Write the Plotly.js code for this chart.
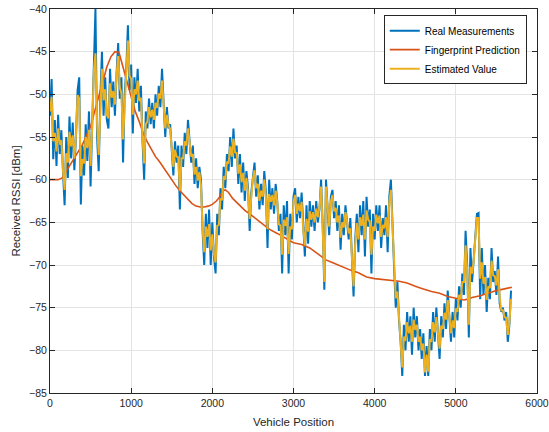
<!DOCTYPE html>
<html>
<head>
<meta charset="utf-8">
<script src="https://cdn.plot.ly/plotly-3.0.1.min.js"></script>
<style>html,body{margin:0;padding:0;background:#fff;}#chart{width:549px;height:432px;}</style>
</head>
<body>
<div id="chart"></div>
<script>
// Position step of the sampled series (vehicle position units)
const positionStep = 20;

// Real Measurements (RSSI, dBm), one value per positionStep
const realMeasurements = [
  -52.5,-48.2,-57.6,-53.0,-58.4,-52.4,-57.0,-54.2,-59.1,-63.0,
  -55.0,-59.8,-52.6,-57.5,-53.3,-58.9,-55.0,-49.5,-48.0,-62.9,
  -56.0,-59.5,-53.5,-57.8,-52.0,-60.8,-53.5,-47.5,-40.0,-55.0,
  -59.0,-50.5,-45.0,-52.5,-48.0,-53.0,-54.0,-47.0,-51.5,-48.5,
  -52.5,-47.5,-44.0,-50.5,-48.0,-58.0,-50.0,-47.0,-41.9,-49.5,
  -46.5,-54.6,-48.0,-51.0,-47.0,-52.0,-49.0,-55.5,-60.0,-52.0,
  -54.0,-50.5,-53.5,-51.0,-54.0,-50.0,-52.5,-49.0,-51.5,-47.0,
  -52.0,-55.0,-51.5,-54.0,-53.5,-57.0,-59.5,-55.5,-58.0,-56.0,
  -63.5,-56.0,-58.5,-54.5,-57.0,-53.0,-55.5,-58.0,-56.0,-60.5,
  -57.5,-61.0,-58.5,-60.0,-66.0,-70.0,-64.0,-68.0,-63.5,-70.0,
  -65.0,-69.0,-71.0,-64.0,-66.5,-61.0,-63.5,-58.5,-61.0,-57.0,
  -59.0,-55.0,-58.5,-54.0,-57.5,-56.0,-60.5,-57.0,-61.5,-58.0,
  -62.5,-59.0,-61.0,-66.0,-61.5,-60.0,-58.0,-62.0,-59.5,-63.5,
  -60.5,-63.0,-59.0,-61.5,-68.0,-60.0,-63.5,-61.0,-64.0,-60.5,
  -62.5,-66.0,-64.0,-71.0,-63.0,-66.5,-62.5,-71.0,-64.0,-67.0,
  -62.0,-61.0,-65.0,-62.0,-64.5,-61.5,-66.0,-69.0,-63.0,-67.5,
  -62.5,-65.5,-63.0,-66.0,-62.5,-65.0,-63.5,-60.0,-65.5,-72.9,
  -60.0,-64.0,-66.5,-62.0,-61.2,-64.5,-62.5,-66.0,-63.0,-68.2,
  -64.0,-66.5,-63.0,-65.0,-67.0,-64.5,-70.0,-73.7,-67.0,-64.0,
  -68.5,-63.0,-66.5,-62.5,-69.0,-62.0,-65.5,-63.5,-71.0,-64.0,
  -67.0,-63.0,-66.0,-63.0,-68.0,-64.5,-66.5,-63.0,-68.5,-62.0,
  -60.0,-66.0,-70.5,-75.0,-72.0,-76.5,-79.0,-83.0,-77.0,-80.0,
  -75.5,-79.0,-76.0,-80.5,-75.0,-78.5,-76.0,-80.0,-77.5,-81.0,
  -78.0,-83.0,-79.5,-83.0,-77.5,-80.0,-75.5,-79.0,-75.0,-78.0,
  -81.0,-76.0,-78.5,-74.5,-77.5,-73.0,-76.0,-79.0,-75.5,-78.5,
  -74.0,-76.5,-72.5,-75.0,-71.0,-73.5,-66.0,-70.0,-78.5,-68.0,
  -72.0,-69.5,-67.0,-64.0,-63.9,-74.0,-68.0,-73.5,-70.0,-75.5,
  -71.5,-74.0,-68.0,-72.0,-70.7,-73.5,-69.0,-74.5,-75.5,-75.0,
  -76.5,-75.5,-79.0,-77.0,-73.0
];

// Estimated Value (RSSI, dBm), same positions
const estimatedValue = [
  -52.0,-50.3,-55.5,-54.5,-56.7,-54.0,-55.9,-55.4,-58.9,-61.2,
  -56.9,-58.0,-54.4,-56.1,-54.8,-57.5,-54.8,-50.1,-50.5,-59.6,
  -57.6,-58.1,-55.0,-56.3,-54.2,-58.4,-53.7,-47.3,-45.2,-53.4,
  -57.1,-51.0,-47.0,-50.7,-49.4,-52.4,-52.8,-48.7,-50.4,-49.6,
  -51.2,-47.7,-45.5,-49.2,-49.9,-55.3,-50.8,-46.7,-43.7,-47.8,
  -48.2,-52.4,-49.4,-50.0,-48.4,-50.8,-50.4,-55.2,-58.1,-53.5,
  -53.2,-51.5,-52.7,-51.8,-53.0,-51.0,-51.6,-49.9,-50.5,-48.4,
  -51.7,-54.0,-52.4,-53.6,-54.1,-56.9,-58.5,-56.5,-57.3,-57.4,
  -61.3,-57.5,-57.5,-55.5,-56.0,-54.0,-55.5,-57.3,-57.0,-59.4,
  -58.5,-60.1,-59.1,-60.7,-65.7,-68.5,-65.5,-66.7,-65.2,-68.3,
  -66.4,-68.7,-69.7,-65.4,-65.3,-62.2,-62.4,-59.6,-60.0,-57.9,
  -58.1,-56.1,-57.3,-55.2,-56.8,-56.9,-59.3,-58.2,-60.3,-59.2,
  -61.3,-59.8,-61.5,-64.6,-62.0,-59.9,-58.9,-61.0,-60.5,-62.5,
  -61.3,-62.0,-60.0,-62.1,-65.8,-61.7,-62.6,-61.8,-63.0,-61.3,
  -62.7,-65.2,-65.4,-68.8,-64.7,-65.4,-64.4,-68.7,-65.5,-65.8,
  -62.6,-61.8,-64.0,-62.8,-63.7,-62.6,-65.8,-67.7,-64.6,-66.1,
  -63.7,-64.7,-63.8,-65.0,-63.4,-64.4,-63.2,-60.8,-65.8,-72.0,
  -60.8,-63.8,-65.5,-62.6,-61.8,-63.7,-63.3,-65.0,-64.2,-66.8,
  -65.0,-65.6,-63.8,-65.0,-66.3,-65.7,-69.7,-72.5,-67.6,-65.1,
  -67.0,-64.4,-65.4,-64.1,-67.0,-63.6,-64.7,-64.9,-68.8,-65.5,
  -66.0,-64.1,-65.1,-64.2,-66.7,-65.3,-65.7,-64.4,-66.7,-62.7,
  -61.2,-65.8,-70.5,-73.9,-73.1,-76.2,-79.2,-82.0,-78.4,-78.9,
  -76.7,-78.0,-77.1,-79.0,-76.4,-77.6,-77.0,-79.0,-78.4,-80.0,
  -79.2,-82.6,-80.5,-82.5,-78.7,-79.0,-76.7,-77.9,-76.1,-78.0,
  -79.8,-77.1,-77.5,-75.6,-76.4,-74.1,-76.0,-78.0,-76.5,-77.4,
  -75.1,-75.5,-73.5,-74.0,-72.0,-72.0,-67.7,-70.7,-77.0,-70.2,
  -71.0,-69.5,-66.9,-64.5,-64.5,-71.6,-69.7,-72.2,-71.4,-74.1,
  -72.5,-72.7,-69.5,-71.2,-71.3,-72.4,-70.5,-73.8,-75.3,-75.3,
  -76.1,-76.2,-78.2,-76.7,-74.0
];

// Fingerprint Prediction (smooth curve)
const predictionPosition = [0,100,150,200,250,300,350,400,450,500,550,600,650,700,750,800,850,900,950,1000,
  1050,1100,1150,1200,1250,1300,1350,1400,1450,1500,1550,1600,1650,1700,1750,1800,1850,1900,1950,2000,
  2050,2100,2130,2160,2200,2250,2300,2400,2500,2600,2700,2800,2900,3000,3100,3200,3300,3400,3500,3600,
  3700,3800,3900,4000,4100,4200,4300,4400,4500,4600,4700,4800,4900,5000,5050,5100,5150,5200,5300,5400,
  5500,5600,5690];
const predictionRSSI = [-60.0,-60.0,-59.8,-59.0,-58.2,-57.4,-56.6,-55.9,-54.8,-53.8,-52.0,-50.3,-48.6,-46.8,-45.6,-45.0,-45.1,-46.8,-48.8,-50.5,
  -52.0,-53.2,-54.6,-55.6,-56.5,-57.3,-57.9,-58.6,-59.3,-60.1,-60.7,-61.3,-61.8,-62.3,-62.8,-63.1,-63.2,-63.2,-63.1,-62.9,
  -62.5,-61.9,-61.3,-61.2,-61.5,-62.2,-62.7,-63.6,-64.3,-65.0,-65.8,-66.3,-66.9,-67.4,-67.6,-68.0,-68.7,-69.4,-69.8,-70.2,
  -70.6,-70.9,-71.4,-71.6,-71.7,-71.8,-71.9,-72.1,-72.5,-72.8,-73.1,-73.3,-73.7,-73.9,-74.0,-74.1,-74.0,-73.8,-73.6,-73.3,
  -73.0,-72.8,-72.6];

const xTickValues = [0,1000,2000,3000,4000,5000,6000];
const yTickValues = [-85,-80,-75,-70,-65,-60,-55,-50,-45,-40];

const measPos = realMeasurements.map((_, i) => i * positionStep);

const traces = [
  {x: measPos, y: realMeasurements, type: 'scatter', mode: 'lines', name: 'Real Measurements',
   line: {color: '#0072BD', width: 2}},
  {x: predictionPosition, y: predictionRSSI, type: 'scatter', mode: 'lines', name: 'Fingerprint Prediction',
   line: {color: '#D95319', width: 1.6}},
  {x: measPos, y: estimatedValue, type: 'scatter', mode: 'lines', name: 'Estimated Value',
   line: {color: '#EDB120', width: 2}}
];

const axisCommon = {
  showgrid: true, gridcolor: '#e3e3e3', gridwidth: 1,
  zeroline: false, showline: true, linecolor: '#262626', linewidth: 1,
  mirror: 'ticks', ticks: 'inside', ticklen: 5, tickcolor: '#262626',
  tickfont: {family: 'Liberation Sans, Arial, sans-serif', size: 10.5, color: '#262626'}
};

const layout = {
  width: 549, height: 432,
  margin: {l: 50, r: 12, t: 9, b: 39},
  paper_bgcolor: '#ffffff', plot_bgcolor: '#ffffff',
  showlegend: true,
  xaxis: Object.assign({}, axisCommon, {
    range: [0, 6000], tickvals: xTickValues,
    title: {text: 'Vehicle Position', standoff: 10,
            font: {family: 'Liberation Sans, Arial, sans-serif', size: 11.5, color: '#262626'}}
  }),
  yaxis: Object.assign({}, axisCommon, {
    range: [-85, -40], tickvals: yTickValues,
    title: {text: 'Received RSSI [dBm]', standoff: 6,
            font: {family: 'Liberation Sans, Arial, sans-serif', size: 11.5, color: '#262626'}}
  }),
  legend: {
    x: 0.979, y: 0.984, xanchor: 'right', yanchor: 'top',
    bgcolor: '#ffffff', bordercolor: '#262626', borderwidth: 1,
    font: {family: 'Liberation Sans, Arial, sans-serif', size: 10, color: '#000000'},
    itemwidth: 30, tracegroupgap: 0
  }
};

Plotly.newPlot('chart', traces, layout, {displayModeBar: false, staticPlot: true});
</script>
</body>
</html>
